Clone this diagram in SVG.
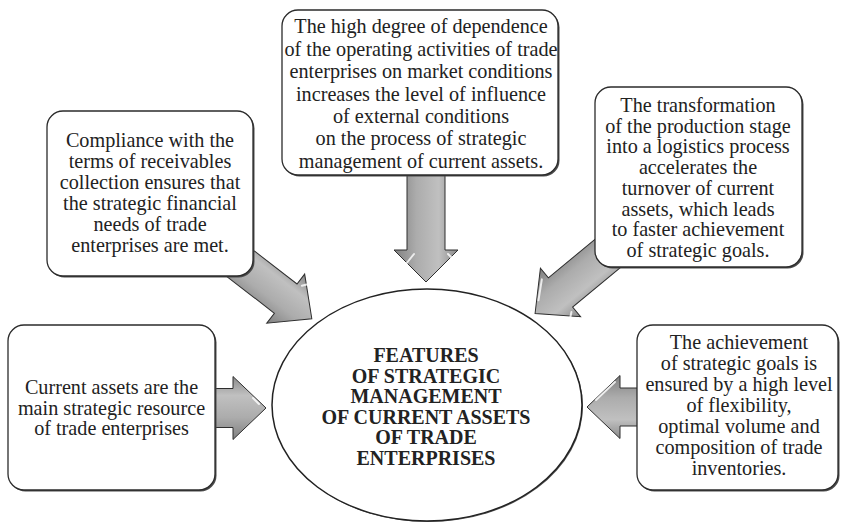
<svg xmlns="http://www.w3.org/2000/svg" width="841" height="522" viewBox="0 0 841 522">
  <defs>
    <linearGradient id="arrowGrad" x1="0" y1="0" x2="0" y2="1">
      <stop offset="0" stop-color="#8a8a8a"/>
      <stop offset="0.3" stop-color="#c0c0c0"/>
      <stop offset="0.65" stop-color="#acacac"/>
      <stop offset="1" stop-color="#808080"/>
    </linearGradient>
  </defs>
  <style>
    .box { fill: #ffffff; stroke: #2b2b2b; stroke-width: 1.3; }
    .shadow { fill: #4a4a4a; }
    .arrow { fill: url(#arrowGrad); stroke: #2e2e2e; stroke-width: 1; stroke-linejoin: miter; }
    .hl { fill: none; stroke: #ffffff; stroke-width: 2; stroke-linecap: round; opacity: 0.8; }
    .txt { font-family: 'Liberation Serif', 'DejaVu Serif', serif; font-size: 20.2px; fill: #222222; text-anchor: middle; }
    .title { font-family: 'Liberation Serif', 'DejaVu Serif', serif; font-size: 20px; font-weight: bold; fill: #222222; text-anchor: middle; }
    .ell { fill: #ffffff; stroke: #222222; stroke-width: 1.5; }
  </style>

  <g id="connectors">
    <g transform="translate(233,408)">
      <path class="arrow" d="M -24,-19.5 L 0,-19.5 L 0,-31.5 L 33,0 L 0,31.5 L 0,19.5 L -24,19.5 Z"/>
      <path class="hl" d="M 20,-10 L 26,-4"/>
    </g>
    <g transform="translate(620,407) rotate(180)">
      <path class="arrow" d="M -24,-19 L 0,-19 L 0,-31.5 L 33,0 L 0,31.5 L 0,19 L -24,19 Z"/>
      <path class="hl" d="M 5,25 L 24,7"/>
    </g>
    <g transform="translate(426,250) rotate(90)">
      <path class="arrow" d="M -80,-19 L 0,-19 L 0,-32 L 32,0 L 0,32 L 0,19 L -80,19 Z"/>
      <path class="hl" d="M 4,12 L 14,20"/>
      <path class="hl" d="M 4,-22 L 8,-26"/>
    </g>
    <g transform="translate(285.7,298.6) rotate(37.7)">
      <path class="arrow" d="M -80,-18.5 L 0,-18.5 L 0,-31 L 33,0 L 0,31 L 0,18.5 L -80,18.5 Z"/>
      <path class="hl" d="M 5,-20 L 8,-24"/>
    </g>
    <g transform="translate(560.5,292.5) rotate(140.4)">
      <path class="arrow" d="M -80,-19 L 0,-19 L 0,-31.5 L 33,0 L 0,31.5 L 0,19 L -80,19 Z"/>
      <path class="hl" d="M 6,22 L 22,8"/>
      <path class="hl" d="M 4,-22 L 9,-26"/>
    </g>
  </g>

  <g id="node-center">
    <ellipse cx="428" cy="406" rx="155" ry="116" fill="#555555"/>
    <ellipse class="ell" cx="427" cy="405" rx="155" ry="116"/>
    <text class="title" x="426" y="362">FEATURES</text>
    <text class="title" x="426" y="382.6">OF STRATEGIC</text>
    <text class="title" x="426" y="403.2">MANAGEMENT</text>
    <text class="title" x="426" y="423.8">OF CURRENT ASSETS</text>
    <text class="title" x="426" y="444.4">OF TRADE</text>
    <text class="title" x="426" y="465">ENTERPRISES</text>
  </g>

  <g id="node-top">
    <rect class="shadow" x="283.5" y="11.5" width="276" height="165" rx="16"/>
    <rect class="box" x="282" y="10" width="276" height="165" rx="16"/>
    <text class="txt" x="421" y="33.3">The high degree of dependence</text>
    <text class="txt" x="421" y="55.7">of the operating activities of trade</text>
    <text class="txt" x="421" y="78.1">enterprises on market conditions</text>
    <text class="txt" x="421" y="100.5">increases the level of influence</text>
    <text class="txt" x="421" y="122.9">of external conditions</text>
    <text class="txt" x="421" y="145.3">on the process of strategic</text>
    <text class="txt" x="421" y="167.7">management of current assets.</text>
  </g>

  <g id="node-top-left">
    <rect class="shadow" x="48.5" y="112.5" width="206" height="165" rx="16"/>
    <rect class="box" x="47" y="111" width="206" height="165" rx="16"/>
    <text class="txt" x="150" y="147">Compliance with the</text>
    <text class="txt" x="150" y="168">terms of receivables</text>
    <text class="txt" x="150" y="189">collection ensures that</text>
    <text class="txt" x="150" y="210">the strategic financial</text>
    <text class="txt" x="150" y="231">needs of trade</text>
    <text class="txt" x="150" y="252">enterprises are met.</text>
  </g>

  <g id="node-top-right">
    <rect class="shadow" x="596.5" y="88.5" width="207" height="180" rx="16"/>
    <rect class="box" x="595" y="87" width="207" height="180" rx="16"/>
    <text class="txt" x="698" y="112">The transformation</text>
    <text class="txt" x="698" y="132.7">of the production stage</text>
    <text class="txt" x="698" y="153.4">into a logistics process</text>
    <text class="txt" x="698" y="174.1">accelerates the</text>
    <text class="txt" x="698" y="194.8">turnover of current</text>
    <text class="txt" x="698" y="215.5">assets, which leads</text>
    <text class="txt" x="698" y="236.2">to faster achievement</text>
    <text class="txt" x="698" y="257">of strategic goals.</text>
  </g>

  <g id="node-bottom-left">
    <rect class="shadow" x="9.5" y="326.5" width="207" height="165" rx="16"/>
    <rect class="box" x="8" y="325" width="207" height="165" rx="16"/>
    <text class="txt" x="111.5" y="394">Current assets are the</text>
    <text class="txt" x="111.5" y="415">main strategic resource</text>
    <text class="txt" x="111.5" y="435">of trade enterprises</text>
  </g>

  <g id="node-bottom-right">
    <rect class="shadow" x="638.5" y="326.5" width="201" height="165" rx="16"/>
    <rect class="box" x="637" y="325" width="201" height="165" rx="16"/>
    <text class="txt" x="739" y="349">The achievement</text>
    <text class="txt" x="739" y="370">of strategic goals is</text>
    <text class="txt" x="739" y="391">ensured by a high level</text>
    <text class="txt" x="739" y="412">of flexibility,</text>
    <text class="txt" x="739" y="433">optimal volume and</text>
    <text class="txt" x="739" y="454">composition of trade</text>
    <text class="txt" x="739" y="475">inventories.</text>
  </g>
</svg>
